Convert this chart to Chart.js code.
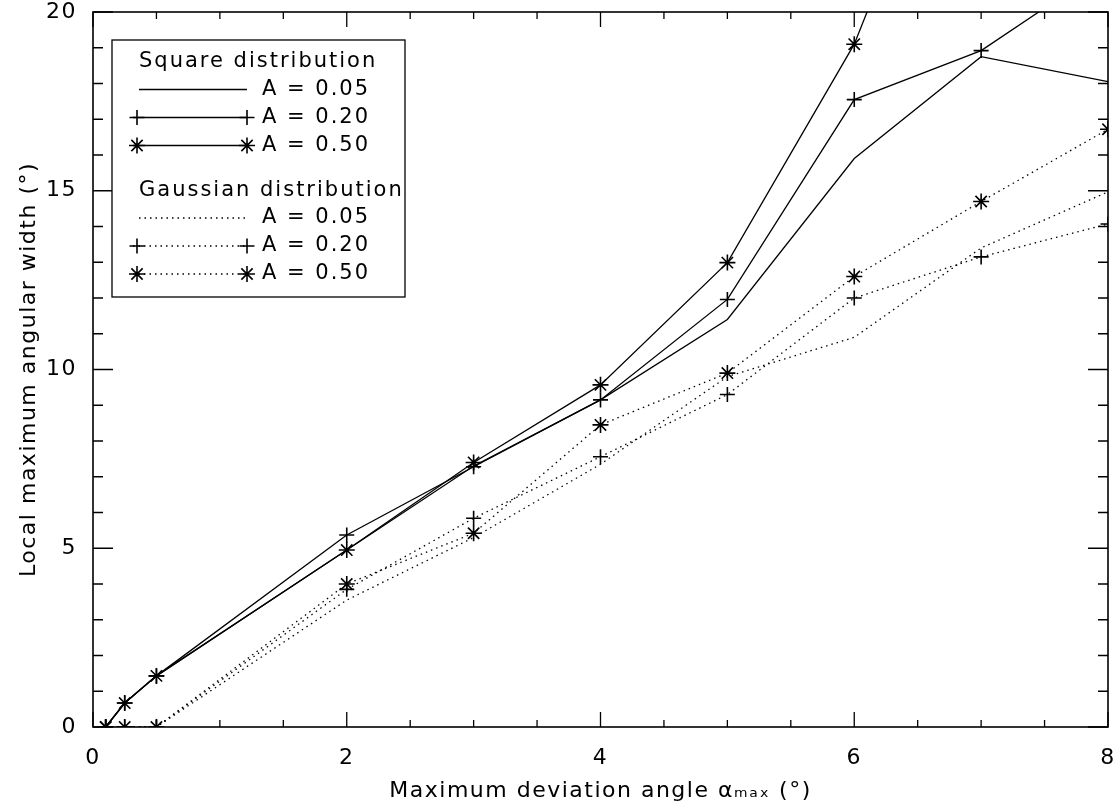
<!DOCTYPE html>
<html>
<head>
<meta charset="utf-8">
<script src="https://cdn.jsdelivr.net/npm/chart.js@4.4.1/dist/chart.umd.min.js"></script>
<style>
  html, body { margin: 0; padding: 0; background: #fff; }
  #wrap { width: 1120px; height: 812px; }
</style>
</head>
<body>
<div id="wrap"><canvas id="chart" width="1120" height="812"></canvas></div>
<script>
// values
const alphaMax = [0.1, 0.25, 0.5, 2, 3, 4, 5, 6, 7, 8];

const squareA005 = [0, 0.67, 1.43, 4.95, 7.30, 9.15, 11.40, 15.90, 18.75, 18.05];
const squareA020 = [0, 0.67, 1.43, 5.37, 7.28, 9.15, 11.96, 17.55, 18.92, 21.3];
const squareA050 = [0, 0.67, 1.43, 4.95, 7.40, 9.57, 12.99, 19.10, 28.0, 30.0];

const gaussA005 = [0, 0, 0, 3.55, 5.30, 7.35, 9.80, 10.90, 13.40, 14.97];
const gaussA020 = [0, 0, 0, 3.85, 5.84, 7.56, 9.30, 12.00, 13.15, 14.07];
const gaussA050 = [0, 0, 0, 4.00, 5.42, 8.45, 9.90, 12.60, 14.70, 16.72];

const groupNames = ['Square distribution', 'Gaussian distribution'];
const ampLabels = ['A = 0.05', 'A = 0.20', 'A = 0.50'];

const xTicks = [0, 2, 4, 6, 8];
const yTicks = [0, 5, 10, 15, 20];

const FONT = 'DejaVu Sans';
const DOT = [1.5, 4];

function series(values, group, amp){
  const marker = [false, 'cross', 'star'][amp];
  return {
    label: ampLabels[amp],
    group: group,
    data: alphaMax.map((x, i) => ({ x: x, y: values[i] })),
    borderColor: '#000',
    backgroundColor: '#000',
    borderWidth: 1.3,
    borderDash: group === 1 ? DOT : [],
    pointStyle: marker || 'circle',
    pointRadius: marker ? (amp === 2 ? 8 : 7.5) : 0,
    pointHoverRadius: marker ? 8 : 0,
    pointBorderWidth: 1.6,
    pointBorderColor: '#000',
    tension: 0
  };
}

const datasets = [
  series(squareA005, 0, 0), series(squareA020, 0, 1), series(squareA050, 0, 2),
  series(gaussA005, 1, 0), series(gaussA020, 1, 1), series(gaussA050, 1, 2)
];

// the reference lettering is widely spaced
const spacingPlugin = {
  id: 'spacing',
  beforeDraw(chart){ chart.ctx.letterSpacing = '1.5px'; }
};

// frame with inward ticks on all four sides
const framePlugin = {
  id: 'frame',
  afterDraw(chart){
    const ctx = chart.ctx, ca = chart.chartArea;
    const xs = chart.scales.x, ys = chart.scales.y;
    ctx.save();
    ctx.strokeStyle = '#000';
    ctx.lineWidth = 1.6;
    ctx.strokeRect(ca.left, ca.top, ca.right - ca.left, ca.bottom - ca.top);
    ctx.lineWidth = 1.3;
    ctx.beginPath();
    for (let i = 0; i <= 16; i++) {
      const px = xs.getPixelForValue(i * 0.5);
      const len = i % 4 === 0 ? 15 : 7;
      ctx.moveTo(px, ca.bottom); ctx.lineTo(px, ca.bottom - len);
      ctx.moveTo(px, ca.top); ctx.lineTo(px, ca.top + len);
    }
    for (let i = 0; i <= 20; i++) {
      const py = ys.getPixelForValue(i);
      const len = i % 5 === 0 ? 20 : 10;
      ctx.moveTo(ca.left, py); ctx.lineTo(ca.left + len, py);
      ctx.moveTo(ca.right, py); ctx.lineTo(ca.right - len, py);
    }
    ctx.stroke();
    ctx.restore();
  }
};

// boxed legend with group headers, built from the datasets
const legendPlugin = {
  id: 'boxLegend',
  afterDraw(chart){
    const ctx = chart.ctx, ca = chart.chartArea;
    const bx = ca.left + 19, by = ca.top + 28, bw = 293, bh = 257;
    ctx.save();
    ctx.fillStyle = '#fff';
    ctx.fillRect(bx, by, bw, bh);
    ctx.strokeStyle = '#000';
    ctx.lineWidth = 1.3;
    ctx.strokeRect(bx, by, bw, bh);
    ctx.font = '21px "' + FONT + '"';
    ctx.fillStyle = '#000';
    ctx.textBaseline = 'middle';
    ctx.letterSpacing = '2px';
    const x0 = bx + 21, x1 = bx + 135, tx = bx + 150;
    let y = by + 22;
    groupNames.forEach((name, g) => {
      ctx.fillText(name, bx + 27, y);
      y += 27.5;
      datasets.filter(d => d.group === g).forEach(d => {
        ctx.setLineDash(d.borderDash);
        ctx.lineWidth = d.borderWidth;
        ctx.beginPath();
        ctx.moveTo(x0 + (d.pointRadius ? 0 : 6), y);
        ctx.lineTo(x1, y);
        ctx.stroke();
        ctx.setLineDash([]);
        if (d.pointRadius) {
          const opts = { pointStyle: d.pointStyle, radius: d.pointRadius, borderWidth: d.pointBorderWidth, rotation: 0 };
          ctx.strokeStyle = '#000';
          ctx.lineWidth = d.pointBorderWidth;
          Chart.helpers.drawPoint(ctx, opts, x0 + 4, y);
          Chart.helpers.drawPoint(ctx, opts, x1, y);
        }
        ctx.fillText(d.label, tx, y);
        y += 28;
      });
      y += 17;
    });
    ctx.restore();
  }
};

// keep the plot box where the reference has it, whatever the end labels need
function noEdgePadding(s){
  s.paddingTop = 0; s.paddingBottom = 0; s.paddingLeft = 0; s.paddingRight = 0;
}

new Chart(document.getElementById('chart'), {
  type: 'line',
  data: { datasets: datasets },
  options: {
    responsive: false,
    animation: false,
    events: [],
    layout: { padding: { top: 12, right: 12, left: 0, bottom: 0 } },
    plugins: { legend: { display: false }, tooltip: { enabled: false } },
    scales: {
      x: {
        type: 'linear',
        min: 0, max: 8,
        afterFit: s => { s.height = 85; noEdgePadding(s); },
        afterBuildTicks: s => { s.ticks = xTicks.map(v => ({ value: v })); },
        grid: { display: false },
        border: { display: false },
        ticks: { color: '#000', padding: 10, maxRotation: 0, font: { family: FONT, size: 22 } },
        title: {
          display: true,
          text: 'Maximum deviation angle αₘₐₓ (°)',
          color: '#000',
          padding: { top: 0, bottom: 8 },
          font: { family: FONT, size: 22 }
        }
      },
      y: {
        type: 'linear',
        min: 0, max: 20,
        afterFit: s => { s.width = 93; noEdgePadding(s); },
        afterBuildTicks: s => { s.ticks = yTicks.map(v => ({ value: v })); },
        grid: { display: false },
        border: { display: false },
        ticks: { color: '#000', padding: 8, font: { family: FONT, size: 22 } },
        title: {
          display: true,
          text: 'Local maximum angular width (°)',
          color: '#000',
          padding: { top: 16, bottom: 0 },
          font: { family: FONT, size: 22 }
        }
      }
    }
  },
  plugins: [spacingPlugin, framePlugin, legendPlugin]
});
</script>
</body>
</html>
